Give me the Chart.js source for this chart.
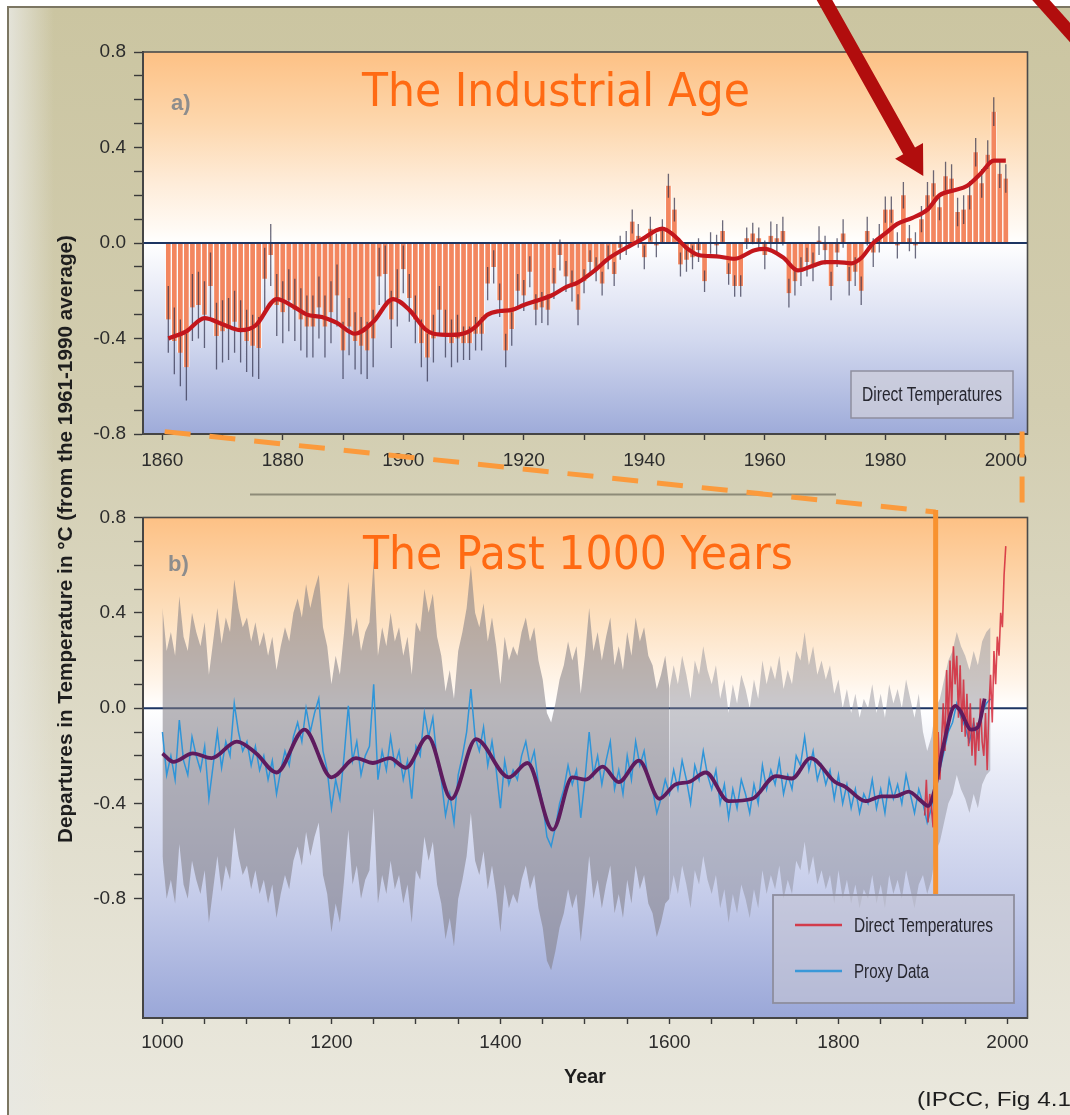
<!DOCTYPE html>
<html>
<head>
<meta charset="utf-8">
<title>Departures in Temperature</title>
<script src="https://cdn.jsdelivr.net/npm/chart.js@4.4.1/dist/chart.umd.min.js"></script>
<style>
  html, body { margin: 0; padding: 0; background: #ffffff; }
  #page { position: relative; width: 1070px; height: 1115px; overflow: hidden; background: #ffffff; }
  #frame {
    position: absolute; left: 7px; top: 6px; width: 1090px; height: 1130px;
    border-left: 2px solid #7c7662; border-top: 2px solid #7c7662;
    background:
      linear-gradient(90deg, rgba(232,232,226,0.85) 0px, rgba(232,232,226,0) 45px),
      linear-gradient(180deg, #cbc5a1 0%, #d2cdb0 35%, #e0ddcc 70%, #ebe9df 100%);
  }
  canvas { position: absolute; left: 0; }
  #ov { position: absolute; left: 0; top: 0; pointer-events: none; }
</style>
</head>
<body>
<div id="page">
  <div id="frame"></div>
  <canvas id="chartA" width="1070" height="480" style="top:0px"></canvas>
  <canvas id="chartB" width="1070" height="600" style="top:480px"></canvas>
  <svg id="ov" width="1070" height="1115" xmlns="http://www.w3.org/2000/svg">
    <g id="marks"></g>
    <!-- panel titles -->
    <text x="362" y="106" font-family="DejaVu Sans" font-size="46.5" fill="#ff6a13" textLength="388" lengthAdjust="spacingAndGlyphs">The Industrial Age</text>
    <text x="363" y="569" font-family="DejaVu Sans" font-size="46.5" fill="#ff6a13" textLength="430" lengthAdjust="spacingAndGlyphs">The Past 1000 Years</text>
    <text x="171" y="110" font-family="Liberation Sans" font-weight="bold" font-size="22" fill="#8d8d8d">a)</text>
    <text x="168" y="571" font-family="Liberation Sans" font-weight="bold" font-size="22" fill="#8d8d8d">b)</text>
    <!-- shared axis titles -->
    <text transform="translate(71.5,539) rotate(-90)" text-anchor="middle" font-family="Liberation Sans" font-weight="bold" font-size="20.5" fill="#1e1e1e" textLength="608" lengthAdjust="spacingAndGlyphs">Departures in Temperature in °C (from the 1961-1990 average)</text>
    <text x="564" y="1083" font-family="Liberation Sans" font-weight="bold" font-size="21" fill="#1e1e1e" textLength="42" lengthAdjust="spacingAndGlyphs">Year</text>
    <text x="917" y="1106" font-family="Liberation Sans" font-size="20" fill="#1e1e1e" textLength="162" lengthAdjust="spacingAndGlyphs">(IPCC, Fig 4.1)</text>
    <!-- legend, panel a -->
    <rect x="851" y="371" width="162" height="47" fill="rgba(205,206,218,0.75)" stroke="#8e8e9e" stroke-width="1.5"/>
    <text x="862" y="401" font-family="Liberation Sans" font-size="20" fill="#26262f" textLength="140" lengthAdjust="spacingAndGlyphs">Direct Temperatures</text>
    <!-- legend, panel b -->
    <rect x="773" y="895" width="241" height="108" fill="rgba(196,197,212,0.6)" stroke="#8e8e9e" stroke-width="1.8"/>
    <line x1="795" y1="925" x2="842" y2="925" stroke="#d23c4c" stroke-width="2.5"/>
    <text x="854" y="932" font-family="Liberation Sans" font-size="20" fill="#26262f" textLength="139" lengthAdjust="spacingAndGlyphs">Direct Temperatures</text>
    <line x1="795" y1="971" x2="842" y2="971" stroke="#3a98d8" stroke-width="2.5"/>
    <text x="854" y="978" font-family="Liberation Sans" font-size="20" fill="#26262f" textLength="75" lengthAdjust="spacingAndGlyphs">Proxy Data</text>
  </svg>
</div>

<script>
// ---------------- Panel a: annual anomalies 1861-2000 ----------------
const FIRST_YEAR_A = 1861;
const tempA = [
  -0.32, -0.41, -0.46, -0.52, -0.27, -0.26, -0.30, -0.18, -0.39, -0.37,
  -0.36, -0.33, -0.37, -0.41, -0.43, -0.44, -0.15, -0.05, -0.26, -0.29,
  -0.24, -0.28, -0.32, -0.35, -0.35, -0.27, -0.35, -0.29, -0.22, -0.45,
  -0.35, -0.41, -0.43, -0.45, -0.40, -0.14, -0.13, -0.32, -0.23, -0.11,
  -0.23, -0.32, -0.42, -0.48, -0.40, -0.28, -0.38, -0.42, -0.40, -0.42,
  -0.42, -0.38, -0.38, -0.17, -0.10, -0.24, -0.45, -0.36, -0.20, -0.22,
  -0.12, -0.28, -0.27, -0.28, -0.17, -0.05, -0.14, -0.18, -0.28, -0.16,
  -0.08, -0.11, -0.17, -0.06, -0.13, -0.02,  0.00,  0.09,  0.03, -0.06,
   0.06, -0.01,  0.05,  0.24,  0.14, -0.09, -0.07, -0.06, -0.03, -0.16,
   0.00, -0.01,  0.05, -0.13, -0.18, -0.18,  0.02,  0.04,  0.02, -0.05,
   0.03,  0.02,  0.05, -0.21, -0.16, -0.12, -0.08, -0.10,  0.01, -0.03,
  -0.18, -0.04,  0.04, -0.16, -0.12, -0.20,  0.05, -0.04,  0.02,  0.14,
   0.14, -0.01,  0.20,  0.02, -0.01,  0.10,  0.20,  0.25,  0.15,  0.28,
   0.27,  0.13,  0.14,  0.20,  0.38,  0.25,  0.37,  0.55,  0.29,  0.27
];
// two-sigma uncertainty by decade (1860s ... 1990s)
const errDecadesA = [1860, 1870, 1880, 1890, 1900, 1910, 1920, 1930, 1940, 1950, 1960, 1970, 1980, 1990];
const errA        = [0.14, 0.13, 0.13, 0.12, 0.10, 0.07, 0.065, 0.05, 0.05, 0.045, 0.06, 0.06, 0.055, 0.06];
// smoothed curve
const smoothYearsA = [1861, 1864, 1867, 1870, 1873, 1875.5, 1879, 1882, 1884, 1886.5,
  1889, 1892, 1895, 1898.3, 1901, 1903.6, 1905, 1908, 1910.5, 1912,
  1914, 1916, 1918, 1920, 1922.4, 1924.6, 1927, 1929, 1932, 1934,
  1937, 1939.5, 1943, 1945, 1947, 1949, 1952, 1955, 1958.3, 1960,
  1963, 1965.5, 1968, 1970, 1972, 1974.4, 1976, 1978, 1980, 1982,
  1984.5, 1987, 1989, 1991.3, 1993.6, 1995.8, 1998, 2000];
const smoothA = [-0.40, -0.37, -0.315, -0.34, -0.365, -0.345, -0.235, -0.27, -0.30, -0.31,
  -0.335, -0.38, -0.33, -0.235, -0.28, -0.36, -0.38, -0.385, -0.375, -0.35,
  -0.30, -0.285, -0.28, -0.26, -0.24, -0.22, -0.185, -0.165, -0.11, -0.066,
  -0.02, 0.014, 0.06, 0.03, -0.02, -0.05, -0.056, -0.066, -0.03, -0.025,
  -0.06, -0.115, -0.095, -0.08, -0.08, -0.085, -0.063, 0.0, 0.04, 0.08,
  0.105, 0.14, 0.20, 0.22, 0.24, 0.29, 0.345, 0.345];
const xTicksA  = [1860, 1870, 1880, 1890, 1900, 1910, 1920, 1930, 1940, 1950, 1960, 1970, 1980, 1990, 2000];
const xLabelsA = [1860, 1880, 1900, 1920, 1940, 1960, 1980, 2000];

// ---------------- Panel b: the past 1000 years ----------------
const PROXY_START = 1000, PROXY_STEP = 5;
const proxyB = [
  -0.10, -0.28, -0.20, -0.30, -0.05, -0.22, -0.28, -0.12, -0.20, -0.26,
  -0.16, -0.38, -0.24, -0.10, -0.25, -0.14, -0.20,  0.02, -0.10, -0.18,
  -0.14, -0.24, -0.16, -0.26, -0.20, -0.30, -0.22, -0.36, -0.26, -0.18,
  -0.24, -0.12, -0.06, -0.14,  0.00, -0.10, -0.02,  0.04, -0.18, -0.26,
  -0.42, -0.30, -0.38, -0.20,  0.01, -0.22, -0.14, -0.28, -0.20, -0.16,
   0.10, -0.30, -0.18, -0.26, -0.12, -0.24, -0.18, -0.30, -0.22, -0.38,
  -0.16, -0.20, -0.02, -0.12, -0.04, -0.22, -0.30, -0.45, -0.36, -0.48,
  -0.28, -0.20, -0.10,  0.08, -0.12, -0.18, -0.08, -0.24, -0.14, -0.26,
  -0.42, -0.22, -0.32, -0.26, -0.30, -0.20, -0.14, -0.24, -0.18, -0.32,
  -0.40, -0.54, -0.58, -0.50, -0.40, -0.34, -0.24, -0.32, -0.26, -0.46,
  -0.30, -0.10, -0.28, -0.20, -0.32, -0.22, -0.14, -0.34, -0.26, -0.36,
  -0.20, -0.30, -0.14, -0.24, -0.18, -0.30, -0.34, -0.44, -0.38, -0.30,
  -0.36, -0.26, -0.34, -0.22, -0.30, -0.40, -0.24, -0.30, -0.18, -0.28,
  -0.34, -0.26, -0.40, -0.32, -0.46, -0.34, -0.42, -0.30, -0.36, -0.44,
  -0.32, -0.40, -0.24, -0.34, -0.26, -0.32, -0.22, -0.36, -0.28, -0.34,
  -0.20, -0.24, -0.12, -0.26, -0.18, -0.30, -0.24, -0.32, -0.26, -0.38,
  -0.28, -0.40, -0.32, -0.42, -0.34, -0.44, -0.36, -0.40, -0.30, -0.42,
  -0.34, -0.44, -0.30, -0.38, -0.32, -0.40, -0.28, -0.36, -0.44, -0.34,
  -0.40, -0.48, -0.42, -0.30, -0.26, -0.18, -0.10, -0.06,  0.02, -0.04,
  -0.08, -0.14, -0.06, -0.12, -0.02,  0.02,  0.04
];
// two-sigma uncertainty of the reconstruction, by period
const bandFromB = [1000, 1600, 1800, 1900];
const bandHalfB = [0.52, 0.44, 0.40, 0.30];
const BAND_SPLIT = 1600;
// instrumental record (every second year)
const DIRECT_START = 1902, DIRECT_STEP = 2;
const directB = [
  -0.45, -0.30, -0.48, -0.36, -0.42, -0.50, -0.22, -0.34, -0.10, -0.30,
  -0.14,  0.02, -0.18,  0.16, -0.08,  0.20,  0.00,  0.26,  0.10,  0.22,
  -0.04,  0.18, -0.10,  0.12, -0.12,  0.06, -0.16,  0.02, -0.20, -0.04,
  -0.24, -0.06, -0.18,  0.04, -0.14, -0.20, -0.02, -0.26,  0.00,  0.14,
  -0.06,  0.24,  0.10,  0.30,  0.22,  0.40,  0.34,  0.56,  0.68
];
// smoothed reconstruction
const smoothYearsB = [1000, 1013, 1036, 1058, 1088, 1111, 1135, 1168, 1200, 1229,
  1249, 1269, 1288, 1314, 1342, 1371, 1410, 1432, 1462, 1485,
  1501, 1521, 1540, 1564, 1588, 1607, 1623, 1643, 1670, 1698,
  1726, 1745, 1767, 1796, 1808, 1832, 1851, 1867, 1883, 1898,
  1906, 1914, 1924, 1938, 1944, 1957, 1965, 1973];
const smoothB = [-0.19, -0.225, -0.19, -0.21, -0.14, -0.19, -0.27, -0.09, -0.29, -0.21,
  -0.23, -0.21, -0.25, -0.12, -0.38, -0.13, -0.29, -0.23, -0.51, -0.29,
  -0.30, -0.245, -0.31, -0.22, -0.38, -0.32, -0.31, -0.27, -0.39, -0.38,
  -0.285, -0.295, -0.21, -0.31, -0.33, -0.39, -0.37, -0.37, -0.35, -0.39,
  -0.41, -0.34, -0.16, 0.01, -0.01, -0.09, -0.08, 0.04];
const xTicksB  = [1000, 1050, 1100, 1150, 1200, 1250, 1300, 1350, 1400, 1450, 1500,
  1550, 1600, 1650, 1700, 1750, 1800, 1850, 1900, 1950, 2000];
const xLabelsB = [1000, 1200, 1400, 1600, 1800, 2000];

// shared value axis
const yTicks  = [-0.8, -0.7, -0.6, -0.5, -0.4, -0.3, -0.2, -0.1, 0, 0.1, 0.2, 0.3, 0.4, 0.5, 0.6, 0.7, 0.8];
const yLabels = [-0.8, -0.4, 0, 0.4, 0.8];

// ---------------- helpers ----------------
const tickFont = { family: "'Liberation Sans', Arial, sans-serif", size: 19 };
const fixedTicks = list => axis => { axis.ticks = list.map(v => ({ value: v })); };
const labelIf = (list, fmt) => v => list.some(l => Math.abs(l - v) < 1e-9) ? fmt(v) : '';

function xAxis(min, max, ticks, labels, height, pad) {
  return {
    type: 'linear', min, max, offset: false,
    afterBuildTicks: fixedTicks(ticks),
    afterFit: s => { s.height = height; },
    ticks: { autoSkip: false, maxRotation: 0, minRotation: 0, padding: pad, font: tickFont, color: '#2c2c2c',
             callback: labelIf(labels, v => String(v)) },
    grid: { drawOnChartArea: false, drawTicks: true, tickLength: 6, tickColor: '#3a3a3a', tickWidth: 1.4, offset: false },
    border: { display: true, color: '#353535', width: 2 }
  };
}
function yAxis(min, max) {
  return {
    type: 'linear', min, max,
    afterBuildTicks: fixedTicks(yTicks),
    afterFit: s => { s.width = 143; },
    ticks: { autoSkip: false, padding: 8, font: tickFont, color: '#2c2c2c',
             callback: labelIf(yLabels, v => v.toFixed(1)) },
    grid: { drawOnChartArea: false, drawTicks: true, tickLength: 9, tickColor: '#3a3a3a', tickWidth: 1.4 },
    border: { display: true, color: '#353535', width: 2 }
  };
}
// plot-area colour wash, anchored to values on the y scale
function plotBackground(stops) {
  return {
    id: 'plotBg',
    beforeDraw(chart) {
      const { ctx, chartArea: a } = chart, y = chart.scales.y;
      const g = ctx.createLinearGradient(0, a.top, 0, a.bottom);
      stops.forEach(([v, c]) => {
        const t = (y.getPixelForValue(v) - a.top) / (a.bottom - a.top);
        g.addColorStop(Math.min(1, Math.max(0, t)), c);
      });
      ctx.save(); ctx.fillStyle = g;
      ctx.fillRect(a.left, a.top, a.right - a.left, a.bottom - a.top);
      ctx.restore();
    }
  };
}
function zeroLine(chart) {
  const { ctx, chartArea: a } = chart, py = chart.scales.y.getPixelForValue(0);
  ctx.save(); ctx.strokeStyle = '#1d3563'; ctx.lineWidth = 2;
  ctx.beginPath(); ctx.moveTo(a.left, py); ctx.lineTo(a.right, py); ctx.stroke(); ctx.restore();
}
const frame = {
  id: 'frame',
  afterDatasetsDraw(chart) {
    const { ctx, chartArea: a } = chart;
    ctx.save(); ctx.strokeStyle = '#4a4a4a'; ctx.lineWidth = 1.6;
    ctx.strokeRect(a.left, a.top, a.right - a.left, a.bottom - a.top); ctx.restore();
  }
};
const errFor = yr => errA[Math.max(0, errDecadesA.findLastIndex(d => d <= yr))];
// error bars on the annual bars, then the zero reference line
const whiskers = {
  id: 'whiskers',
  afterDatasetDraw(chart, args) {
    if (args.index !== 1) return;
    const { ctx } = chart, xs = chart.scales.x, ys = chart.scales.y;
    ctx.save(); ctx.strokeStyle = 'rgba(45,45,72,0.7)'; ctx.lineWidth = 1.3;
    ctx.beginPath();
    tempA.forEach((v, i) => {
      const yr = FIRST_YEAR_A + i, e = errFor(yr), px = xs.getPixelForValue(yr);
      ctx.moveTo(px, ys.getPixelForValue(v + e));
      ctx.lineTo(px, ys.getPixelForValue(v - e));
    });
    ctx.stroke(); ctx.restore();
    zeroLine(chart);
  }
};

// ---------------- chart a ----------------
const chartA = new Chart(document.getElementById('chartA'), {
  type: 'line',
  data: {
    datasets: [
      { type: 'line', data: smoothYearsA.map((x, i) => ({ x, y: smoothA[i] })),
        borderColor: '#c3161c', borderWidth: 4.2, pointRadius: 0, cubicInterpolationMode: 'monotone', fill: false, order: 0 },
      { type: 'bar', data: tempA.map((y, i) => ({ x: FIRST_YEAR_A + i, y })),
        backgroundColor: '#f3865f', borderColor: 'rgba(255,255,255,0.75)',
        borderWidth: { left: 1, right: 1, top: 0, bottom: 0 }, borderSkipped: false,
        barPercentage: 1, categoryPercentage: 1, order: 1 }
    ]
  },
  options: {
    responsive: false, animation: false, devicePixelRatio: 1,
    layout: { padding: { top: 52, right: 42.5, bottom: 0, left: 0 } },
    plugins: { legend: { display: false }, tooltip: { enabled: false } },
    scales: { x: xAxis(1856.8, 2003.6, xTicksA, xLabelsA, 46, 9.6), y: yAxis(-0.8, 0.8) }
  },
  plugins: [plotBackground([[0.8, '#fdc185'], [0.5, '#fdd7ad'], [0.25, '#feecd9'], [0.06, '#fffaf4'], [0, '#ffffff'],
                            [-0.15, '#eef0f9'], [-0.4, '#d3d9ef'], [-0.8, '#9eabd9']]), whiskers, frame]
});

// ---------------- chart b ----------------
const halfFor = yr => bandHalfB[Math.max(0, bandFromB.findLastIndex(d => d <= yr))];
const proxyPts = proxyB.map((y, i) => ({ x: PROXY_START + i * PROXY_STEP, y }));
const bandEdge = (sign, keep) => proxyPts.filter(p => keep(p.x)).map(p => ({ x: p.x, y: p.y + sign * halfFor(p.x) }));
const early = x => x <= BAND_SPLIT, late = x => x >= BAND_SPLIT;
const invisible = { borderWidth: 0, pointRadius: 0, fill: false, tension: 0 };

const chartB = new Chart(document.getElementById('chartB'), {
  type: 'line',
  data: {
    datasets: [
      { data: smoothYearsB.map((x, i) => ({ x, y: smoothB[i] })), borderColor: '#5e1b5e', borderWidth: 3.8,
        pointRadius: 0, cubicInterpolationMode: 'monotone', fill: false, order: 0 },
      { data: directB.map((y, i) => ({ x: DIRECT_START + i * DIRECT_STEP, y })), borderColor: 'rgba(212,40,58,0.85)',
        borderWidth: 1.6, pointRadius: 0, tension: 0, fill: false, order: 1 },
      { data: proxyPts, borderColor: '#2f95d8', borderWidth: 1.5, pointRadius: 0, tension: 0, fill: false, order: 2 },
      Object.assign({ data: bandEdge(-1, early), order: 6 }, invisible),
      Object.assign({ data: bandEdge(1, early), order: 5 }, invisible,
        { fill: { target: 3 }, backgroundColor: 'rgba(128,124,132,0.55)' }),
      Object.assign({ data: bandEdge(-1, late), order: 4 }, invisible),
      Object.assign({ data: bandEdge(1, late), order: 3 }, invisible,
        { fill: { target: 5 }, backgroundColor: 'rgba(138,138,148,0.46)' })
    ]
  },
  options: {
    responsive: false, animation: false, devicePixelRatio: 1,
    layout: { padding: { top: 37.5, right: 42.5, bottom: 0, left: 0 } },
    plugins: { legend: { display: false }, tooltip: { enabled: false } },
    scales: { x: xAxis(977, 2023.7, xTicksB, xLabelsB, 62, 7.6), y: yAxis(-1.3, 0.8) }
  },
  plugins: [plotBackground([[0.8, '#fdc185'], [0.4, '#fddfbd'], [0.12, '#fff4e8'], [0, '#ffffff'],
                            [-0.3, '#e6e9f6'], [-0.8, '#c4cbe9'], [-1.3, '#9aa7d8']]),
            { id: 'zeroB', beforeDatasetsDraw: zeroLine }, frame]
});

// ---------------- annotations linking the two panels ----------------
const B_TOP = 480;
const ax = chartA.scales.x, ay = chartA.scales.y, bx = chartB.scales.x, by = chartB.scales.y;
const marks = document.getElementById('marks');
const NS = 'http://www.w3.org/2000/svg';
function add(tag, attrs) {
  const el = document.createElementNS(NS, tag);
  Object.entries(attrs).forEach(([k, v]) => el.setAttribute(k, v));
  marks.appendChild(el); return el;
}
const pts = arr => arr.map(p => p[0].toFixed(1) + ',' + p[1].toFixed(1)).join(' ');

// separator under panel a
add('line', { x1: 250, y1: 494.5, x2: 836, y2: 494.5, stroke: '#8e8b78', 'stroke-width': 2 });

// zoom link: panel a's time span mapped onto panel b
const LINK_FROM = [1860.4, -0.79], LINK_TO_YEAR = 1915, LINK_TOP = 0.823, LINK_BOTTOM = -0.78;
const pA = [ax.getPixelForValue(LINK_FROM[0]), ay.getPixelForValue(LINK_FROM[1])];
const pB = [bx.getPixelForValue(LINK_TO_YEAR), B_TOP + by.getPixelForValue(LINK_TOP)];
add('line', { x1: pA[0], y1: pA[1], x2: pB[0], y2: pB[1], stroke: '#fb9a3c', 'stroke-width': 5, 'stroke-dasharray': '26 19' });
add('line', { x1: pB[0], y1: pB[1] - 2, x2: pB[0], y2: B_TOP + by.getPixelForValue(LINK_BOTTOM), stroke: '#f8922f', 'stroke-width': 5 });
const rx = ax.getPixelForValue(2002.7);
add('line', { x1: rx, y1: ay.getPixelForValue(-0.79), x2: rx, y2: B_TOP + by.getPixelForValue(0.85),
              stroke: '#fb9a3c', 'stroke-width': 5, 'stroke-dasharray': '26 19' });

// red arrow pointing at the recent warming
const tip = [ax.getPixelForValue(1986.3), ay.getPixelForValue(0.28)];
const dir = [0.489, 0.872], perp = [-dir[1], dir[0]];
const HEAD_LEN = 29, HEAD_HALF = 16, SHAFT_HALF = 6.8;
const base = [tip[0] - dir[0] * HEAD_LEN, tip[1] - dir[1] * HEAD_LEN];
const back = (base[1] + 20) / dir[1];
const tail = [base[0] - dir[0] * back, base[1] - dir[1] * back];
const off = (p, s) => [p[0] + perp[0] * s, p[1] + perp[1] * s];
add('polygon', { points: pts([off(tail, SHAFT_HALF), off(base, SHAFT_HALF), off(base, HEAD_HALF), tip,
                              off(base, -HEAD_HALF), off(base, -SHAFT_HALF), off(tail, -SHAFT_HALF)]), fill: '#b10d0d' });
// second arrow leaving the frame at the top right
add('line', { x1: 1023, y1: -20, x2: 1100, y2: 66, stroke: '#b10d0d', 'stroke-width': 13 });
</script>
</body>
</html>
